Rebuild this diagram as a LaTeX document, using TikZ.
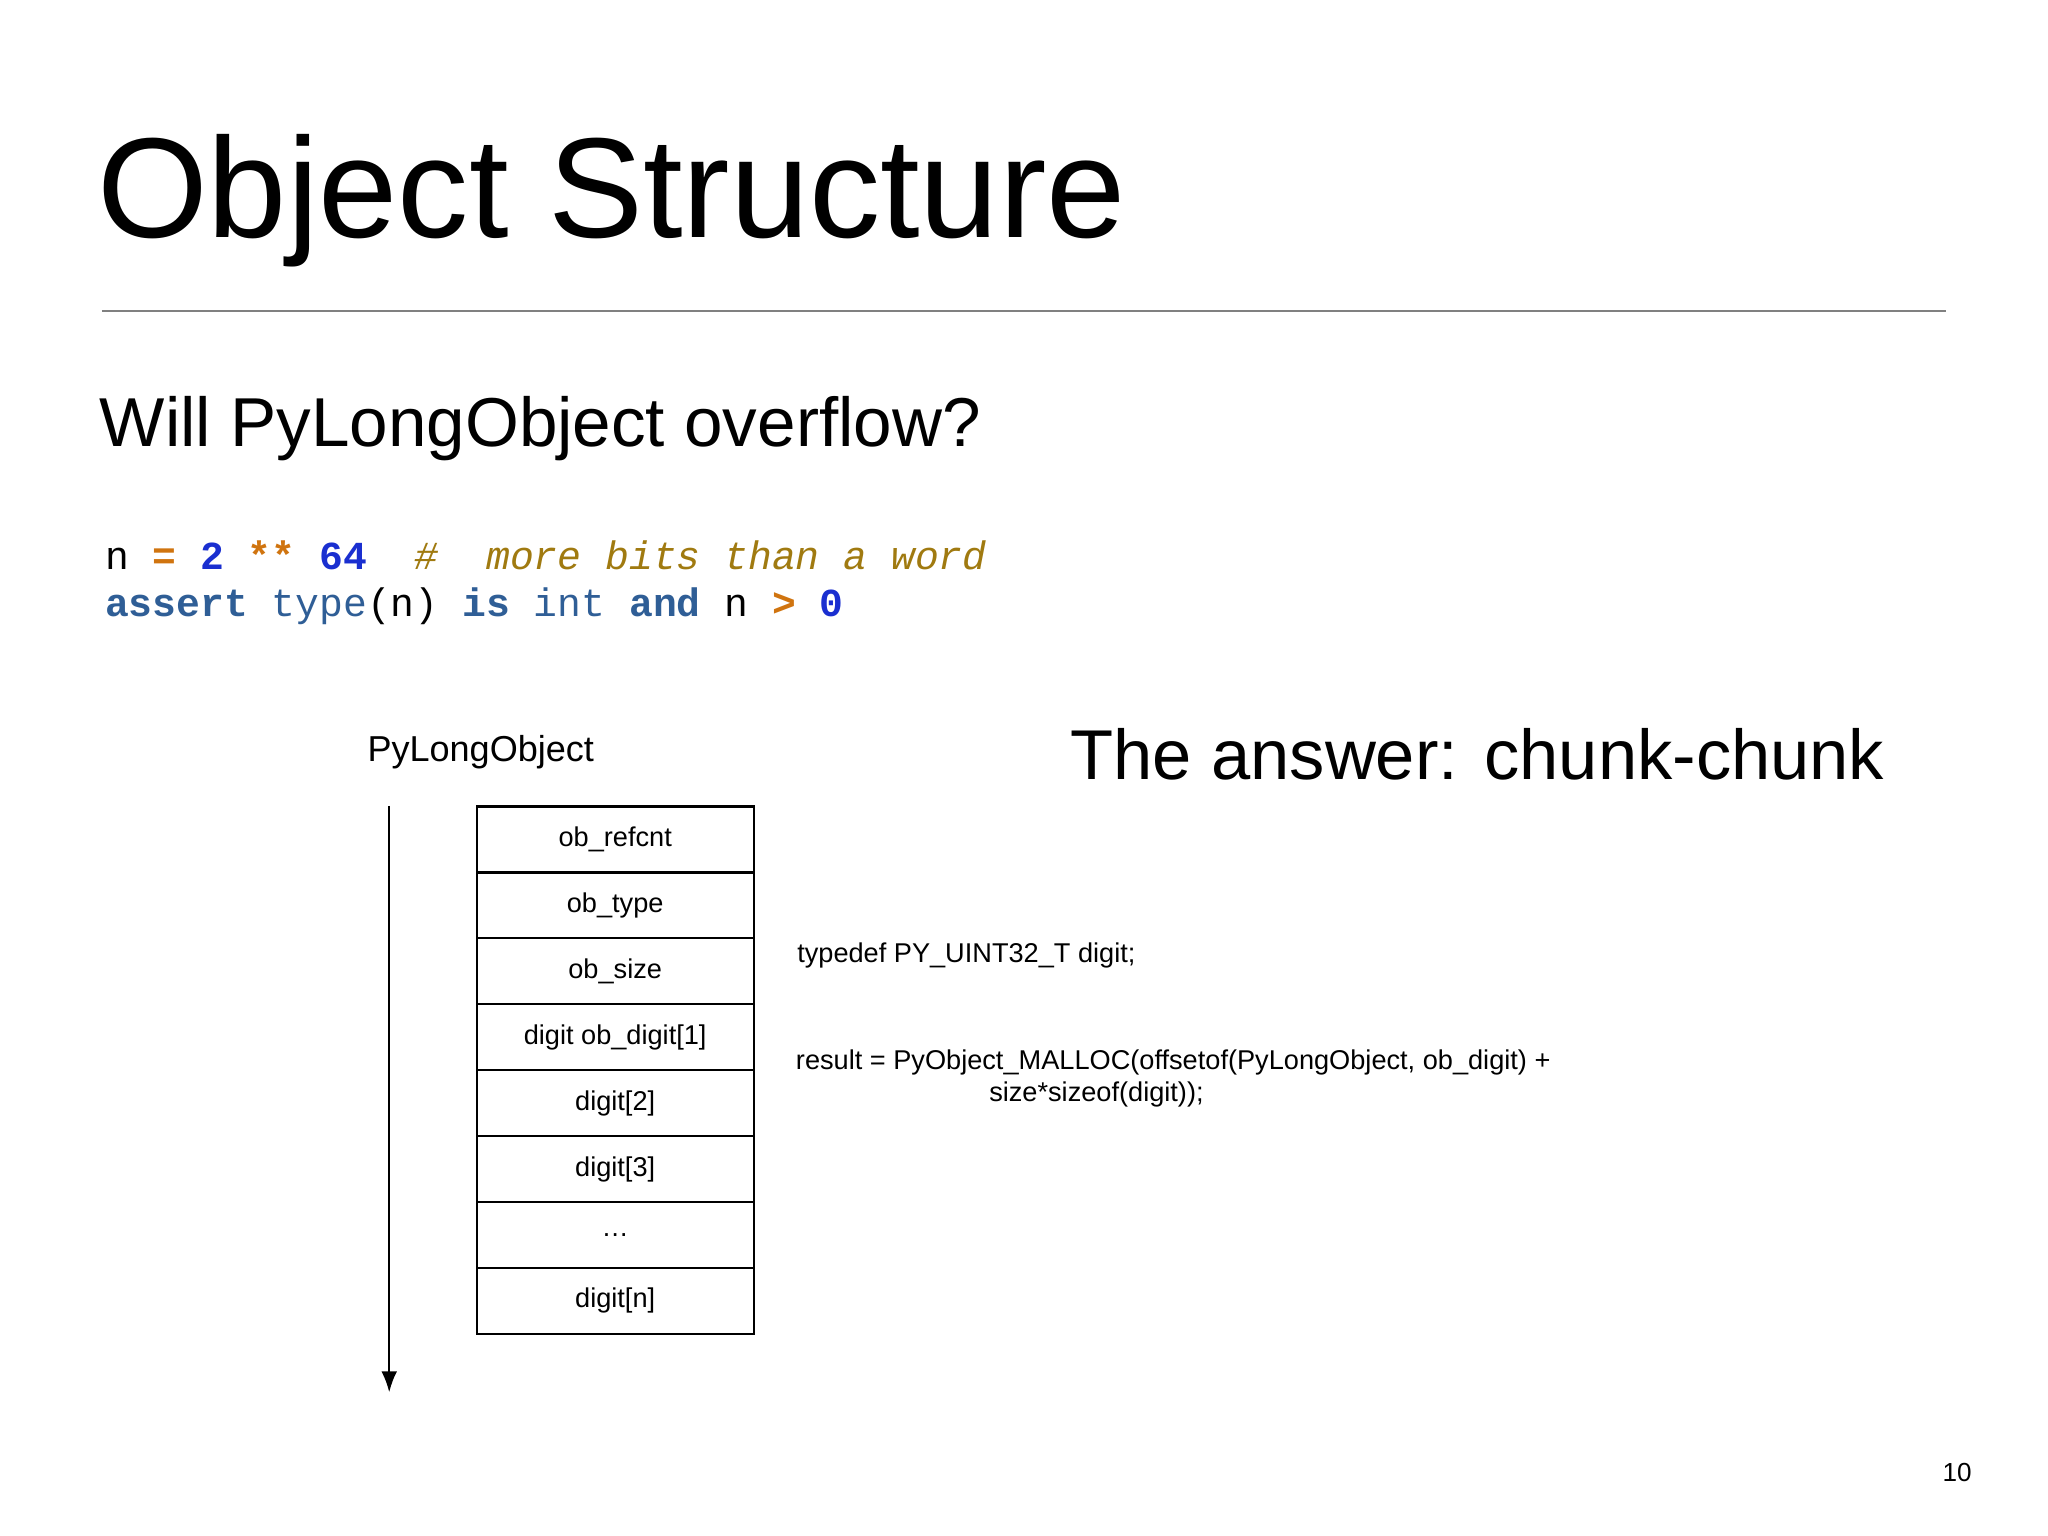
\documentclass[tikz,border=0pt]{standalone}
\usepackage{fontspec}
\usetikzlibrary{arrows.meta}
\setmainfont{Liberation Sans}
\setmonofont{Liberation Mono}
\begin{document}
\begin{tikzpicture}[x=0.5pt,y=-0.5pt,
  cell/.style={draw,line width=0.8pt,minimum width=106pt,minimum height=25pt,inner sep=0pt,font=\fontsize{10.4}{12}\selectfont},
  code/.style={anchor=base west,inner sep=0pt,font=\ttfamily\fontsize{15.2}{18}\selectfont}]
\useasboundingbox[fill=white] (0,0) rectangle (1568,1176);
\definecolor{kw}{HTML}{2F5E96}
\definecolor{num}{HTML}{1A2FD0}
\definecolor{op}{HTML}{D0740F}
\definecolor{cm}{HTML}{A07A10}
\node[anchor=base west,inner sep=0pt,font=\fontsize{54.5}{64}\selectfont] (title) at (74,182) {Object Structure};
\draw[gray,line width=0.6pt] (78,238) -- (1490,238);
\node[anchor=base west,inner sep=0pt,font=\fontsize{26.5}{32}\selectfont] (sub) at (76,342) {Will PyLongObject overflow?};
\node[code] (c1) at (80,436) {n {\bfseries\color{op}=} {\bfseries\color{num}2} {\bfseries\color{op}**} {\bfseries\color{num}64}~~\textcolor{cm}{\itshape\#~~more bits than a word}};
\node[code] (c2) at (80,472) {{\bfseries\color{kw}assert} \textcolor{kw}{type}(n) {\bfseries\color{kw}is} \textcolor{kw}{int} {\bfseries\color{kw}and} n {\bfseries\color{op}>} {\bfseries\color{num}0}};
\node[anchor=base west,inner sep=0pt,font=\fontsize{13.8}{16}\selectfont] (plo) at (281,583) {PyLongObject};
\node[anchor=base west,inner sep=0pt,font=\fontsize{27}{32}\selectfont] (ans) at (819,597) {The answer: chunk-chunk};
\foreach \t [count=\i] in {ob\_refcnt,ob\_type,ob\_size,digit ob\_digit[1],digit[2],digit[3],\dots,digit[n]}{
  \node[cell] (r\i) at (471,{592+50.5*\i}) {\t};
}
\coordinate (a0) at (298,617);
\coordinate (a1) at (298,1066);
\draw[line width=0.8pt,-{Latex[length=8pt,width=6pt]}] (a0) -- (a1);
\node[anchor=base west,inner sep=0pt,font=\fontsize{10.4}{12}\selectfont] (td) at (610,737) {typedef PY\_UINT32\_T digit;};
\node[anchor=north west,inner sep=0pt,align=left,font=\fontsize{10.4}{12.5}\selectfont] (res) at (609,803) {result = PyObject\_MALLOC(offsetof(PyLongObject, ob\_digit) +\\\hspace{74pt}size*sizeof(digit));};
\node[anchor=base east,inner sep=0pt,font=\fontsize{10}{12}\selectfont] (pg) at (1510,1134) {10};
\end{tikzpicture}
\end{document}
